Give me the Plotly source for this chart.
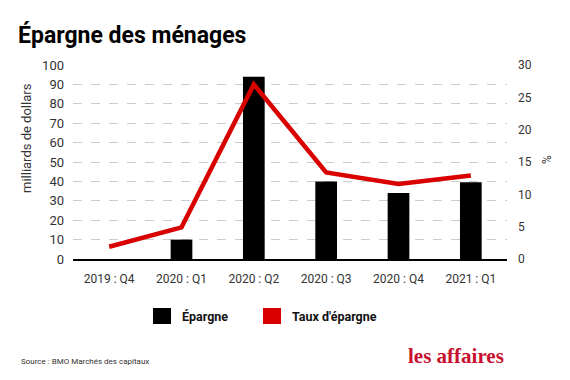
import plotly.graph_objects as go

categories = ["2019 : Q4", "2020 : Q1", "2020 : Q2", "2020 : Q3", "2020 : Q4", "2021 : Q1"]
epargne = [0, 10, 94, 40, 34, 39.5]          # milliards de dollars
taux_epargne = [1.9, 4.9, 27.0, 13.4, 11.6, 12.9]  # %

W, H = 570, 380
OFF = 8  # page offset of the figure (body margin)
# plot area in page pixels
PX0, PX1, PY0, PY1 = 73, 507, 65, 259
L, R, T, B = PX0 - OFF, W - (PX1 - OFF), PY0 - OFF, H - (PY1 - OFF)
FONT = "Roboto"
RED = "#d90000"

fig = go.Figure()
fig.add_trace(go.Bar(x=categories, y=epargne, marker=dict(color="#000000", line=dict(width=0)),
                     name="Épargne", showlegend=False, yaxis="y"))
fig.add_trace(go.Scatter(x=categories, y=taux_epargne, mode="lines", line=dict(color=RED, width=4.5),
                         name="Taux d'épargne", showlegend=False, yaxis="y2"))


def fx(p):
    return (p - PX0) / (PX1 - PX0)


def fy(p):
    return (PY1 - p) / (PY1 - PY0)


shapes = [
    dict(type="rect", xref="paper", yref="paper", x0=fx(153), x1=fx(171), y0=fy(324), y1=fy(308),
         fillcolor="#000000", line=dict(width=0)),
    dict(type="rect", xref="paper", yref="paper", x0=fx(263), x1=fx(281), y0=fy(324), y1=fy(308),
         fillcolor=RED, line=dict(width=0)),
]


def ann(text, x, y, size, color="#222", bold=False, xanchor="left", yanchor="middle", angle=0, family=FONT):
    return dict(text=f"<b>{text}</b>" if bold else text, x=fx(x), y=fy(y),
                xref="paper", yref="paper", showarrow=False, xanchor=xanchor, yanchor=yanchor,
                textangle=angle, font=dict(size=size, color=color, family=family))


annotations = [
    ann("Épargne des ménages", 16, 35, 23, color="#000", bold=True),
    ann("milliards de dollars", 26, 138, 13, color="#333", xanchor="center", angle=-90),
    ann("%", 547, 160, 12, color="#333", xanchor="center", angle=-90),
    ann("Épargne", 180, 316, 12.5, color="#111", bold=True),
    ann("Taux d'épargne", 290, 316, 12.5, color="#111", bold=True),
    ann("Source : BMO Marchés des capitaux", 19, 361, 8, color="#333"),
    ann("les affaires", 506, 356, 21, color="#c8102e", bold=True, xanchor="right",
        family="Liberation Serif"),
]

fig.update_layout(
    width=W, height=H,
    margin=dict(l=L, r=R, t=T, b=B, autoexpand=False),
    paper_bgcolor="#ffffff", plot_bgcolor="#ffffff",
    bargap=0.7,
    font=dict(family=FONT, size=12, color="#333"),
    xaxis=dict(type="category", showgrid=False, showline=True, linecolor="#000", linewidth=2,
               ticks="", ticklabelstandoff=8, tickfont=dict(size=12, color="#333"), zeroline=False),
    yaxis=dict(range=[0, 100], dtick=10, showgrid=True, gridcolor="#cccccc", griddash="dash", gridwidth=1,
               zeroline=False, showline=False, ticks="", ticklabelstandoff=8,
               tickfont=dict(size=13, color="#333")),
    yaxis2=dict(range=[0, 30], dtick=5, overlaying="y", side="right", showgrid=False, zeroline=False,
                showline=False, ticks="", ticklabelstandoff=10, tickfont=dict(size=12, color="#333")),
    shapes=shapes,
    annotations=annotations,
    showlegend=False,
)

fig.write_html("out.html")
